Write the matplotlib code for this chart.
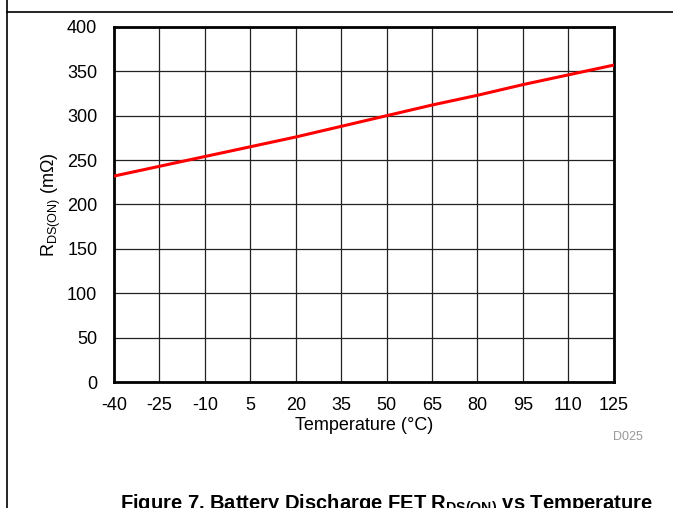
import numpy as np
import matplotlib
matplotlib.use('Agg')
from matplotlib import pyplot as plt
from matplotlib.lines import Line2D

plt.rcParams['font.family'] = ['Liberation Sans', 'DejaVu Sans']
plt.rcParams['mathtext.fontset'] = 'custom'
plt.rcParams['mathtext.rm'] = 'Liberation Sans'
plt.rcParams['mathtext.it'] = 'Liberation Sans:italic'
plt.rcParams['mathtext.bf'] = 'Liberation Sans:bold'
plt.rcParams['axes.unicode_minus'] = False

# temperature (C) vs RDS(ON) (mOhm)
temp = [-40, -25, -10, 5, 20, 35, 50, 65, 80, 95, 110, 125]
rdson = [232, 243, 254, 265, 276, 288, 300, 312, 323, 335, 346, 357]
xticks = [-40, -25, -10, 5, 20, 35, 50, 65, 80, 95, 110, 125]
yticks = [0, 50, 100, 150, 200, 250, 300, 350, 400]

fig = plt.figure(figsize=(6.73, 5.08), dpi=100)
ax = fig.add_axes([0.1694, 0.248, 0.7426, 0.699])

ax.plot(temp, rdson, color='#ff0000', lw=2.2, zorder=3)
ax.set_xlim(-40, 125)
ax.set_ylim(0, 400)
ax.set_xticks(xticks)
ax.set_yticks(yticks)
ax.grid(True, color='#222222', lw=0.9)
ax.tick_params(length=0, labelsize=13)
ax.tick_params(axis='y', pad=12)
ax.tick_params(axis='x', pad=11)
for s in ax.spines.values():
    s.set_linewidth(2)
    s.set_color('black')
ax.set_xlabel('Temperature (°C)', fontsize=13, labelpad=2)
ax.set_ylabel(r'R$_{\mathregular{DS(ON)}}$ (m$\Omega$)', fontsize=13, labelpad=3)

fig.text(0.955, 0.139, 'D025', fontsize=9, color='#999999', ha='right', va='center')

# page decorations from the datasheet
fig.add_artist(Line2D([0.011, 0.011], [0, 1], color='black', lw=1.2, transform=fig.transFigure))
fig.add_artist(Line2D([0.011, 1], [0.976, 0.976], color='black', lw=1.2, transform=fig.transFigure))
fig.text(0.574, -0.004, r'Figure 7. Battery Discharge FET R$_{\mathbf{DS(ON)}}$ vs Temperature',
         fontsize=14.5, fontweight='bold', ha='center', va='baseline')

fig.savefig('out.png', dpi=100)
